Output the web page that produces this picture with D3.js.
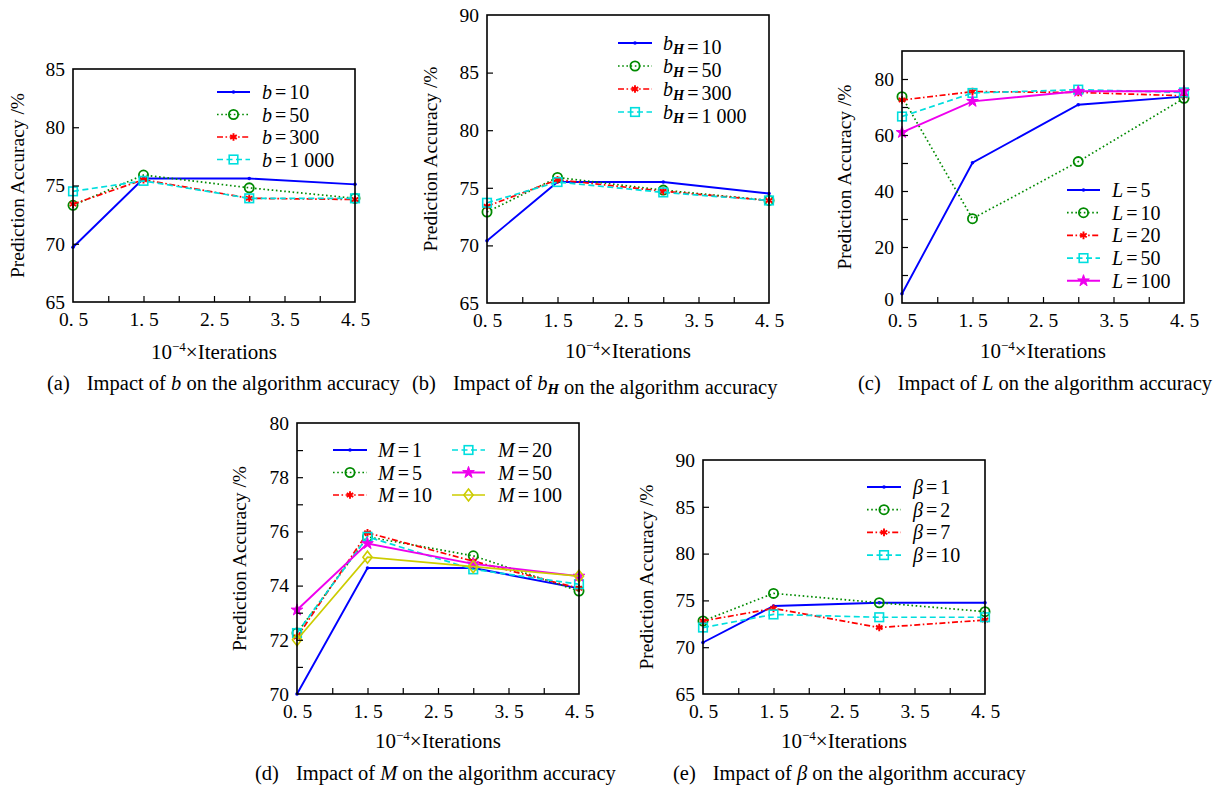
<!DOCTYPE html>
<html lang="en">
<head>
<meta charset="UTF-8">
<title>Impact of parameters on the algorithm accuracy</title>
<script src="https://d3js.org/d3.v7.min.js"></script>
<style>
  body { margin: 0; background: #fff; }
  svg { display: block; background: #fff; }
  text { fill: #000; white-space: pre; }
  .tick line { stroke: #000; stroke-width: 1.2; }
</style>
</head>
<body>
<script>
// x positions of the measurements (10^-4 x iterations)
const iterations = [0.5, 1.5, 3, 4.5];
const xTicks = [0.5, 1, 1.5, 2, 2.5, 3, 3.5, 4, 4.5];
const xTickLabels = ["0. 5", "1. 5", "2. 5", "3. 5", "4. 5"];

// (a) parameter b
const bLabels = ["10", "50", "300", "1 000"];
const bAccuracy = [
  [69.7, 75.6, 75.6, 75.1],
  [73.3, 75.9, 74.8, 73.9],
  [73.4, 75.5, 73.9, 73.8],
  [74.5, 75.4, 73.9, 73.9]
];
const bTicks = [65, 70, 75, 80, 85];

// (b) parameter b_H
const bhLabels = ["10", "50", "300", "1 000"];
const bhAccuracy = [
  [70.4, 75.5, 75.5, 74.5],
  [72.9, 75.9, 74.8, 73.9],
  [73.4, 75.7, 74.7, 73.9],
  [73.7, 75.5, 74.6, 73.9]
];
const bhTicks = [65, 70, 75, 80, 85, 90];

// (c) parameter L
const lLabels = ["5", "10", "20", "50", "100"];
const lAccuracy = [
  [3.3, 50.1, 70.8, 73.7],
  [73.7, 30.1, 50.5, 73.1],
  [72.5, 75.5, 75.2, 74.0],
  [66.6, 75.0, 76.2, 75.2],
  [60.9, 72.0, 75.6, 75.6]
];
const lTicks = [0, 20, 40, 60, 80];
const lMinor = [10, 30, 50, 70];

// (d) parameter M
const mLabels = ["1", "5", "10", "20", "50", "100"];
const mAccuracy = [
  [70.0, 74.65, 74.65, 73.9],
  [72.25, 75.8, 75.1, 73.8],
  [72.1, 75.95, 74.9, 73.9],
  [72.25, 75.8, 74.6, 74.05],
  [73.1, 75.55, 74.8, 74.35],
  [72.0, 75.05, 74.7, 74.35]
];
const mTicks = [70, 72, 74, 76, 78, 80];
const mMinor = [71, 73, 75, 77, 79];

// (e) parameter beta
const betaLabels = ["1", "2", "7", "10"];
const betaAccuracy = [
  [70.5, 74.4, 74.75, 74.75],
  [72.8, 75.75, 74.75, 73.8],
  [72.8, 74.15, 72.1, 72.9],
  [72.1, 73.5, 73.2, 73.2]
];
const betaTicks = [65, 70, 75, 80, 85, 90];

const FONT = "'Liberation Serif', 'Times New Roman', Tinos, 'DejaVu Serif', serif";

// line / marker style of the n-th series
const styles = [
  { color: "#0000ff", dash: null, marker: "dot", width: 1.9 },
  { color: "#008a00", dash: "1.6,2.6", marker: "circle", width: 1.7 },
  { color: "#ff0000", dash: "6,2.5,1.6,2.5", marker: "asterisk", width: 1.7 },
  { color: "#00dede", dash: "6,3.5", marker: "square", width: 1.7 },
  { color: "#ee00ee", dash: null, marker: "star", width: 1.9 },
  { color: "#cccc00", dash: null, marker: "diamond", width: 1.7 }
];

const panels = [
  { letter: "a", v: "b", sub: null, labels: bLabels, values: bAccuracy, yDomain: [65, 85], yTicks: bTicks, yMinor: [],
    left: 73, right: 355, top: 69, bottom: 302, yLabelX: 17,
    legend: { cols: [{ x1: 217, x2: 250, tx: 262 }], y0: 92, dy: 22.5, rows: 4 },
    xLabelY: 359, captionX: 47, captionY: 390 },
  { letter: "b", v: "b", sub: "H", labels: bhLabels, values: bhAccuracy, yDomain: [65, 90], yTicks: bhTicks, yMinor: [],
    left: 487, right: 769, top: 15, bottom: 303, yLabelX: 430,
    legend: { cols: [{ x1: 618, x2: 652, tx: 663 }], y0: 43, dy: 23, rows: 4 },
    xLabelY: 358, captionX: 412, captionY: 390 },
  { letter: "c", v: "L", sub: null, labels: lLabels, values: lAccuracy, yDomain: [0, 90], yTicks: lTicks, yMinor: lMinor,
    left: 902, right: 1184, top: 51, bottom: 303, yLabelX: 844,
    legend: { cols: [{ x1: 1067, x2: 1100, tx: 1112 }], y0: 190, dy: 22.7, rows: 5 },
    xLabelY: 358, captionX: 858, captionY: 390 },
  { letter: "d", v: "M", sub: null, labels: mLabels, values: mAccuracy, yDomain: [70, 80], yTicks: mTicks, yMinor: mMinor,
    left: 297, right: 579, top: 423, bottom: 694, yLabelX: 239,
    legend: { cols: [{ x1: 333, x2: 367, tx: 378 }, { x1: 452, x2: 485, tx: 498 }], y0: 450, dy: 22.5, rows: 3 },
    xLabelY: 748, captionX: 255, captionY: 780 },
  { letter: "e", v: "\u03b2", sub: null, labels: betaLabels, values: betaAccuracy, yDomain: [65, 90], yTicks: betaTicks, yMinor: [],
    left: 703, right: 985, top: 460, bottom: 694, yLabelX: 646,
    legend: { cols: [{ x1: 867, x2: 901, tx: 913 }], y0: 487, dy: 22.7, rows: 4 },
    xLabelY: 748, captionX: 673, captionY: 780 }
];

const svg = d3.select("body").append("svg")
  .attr("width", 1222)
  .attr("height", 788)
  .attr("font-family", FONT);

function drawMarker(g, kind, color, cx, cy) {
  if (kind === "dot") {
    g.append("circle").attr("cx", cx).attr("cy", cy).attr("r", 1.8).attr("fill", color);
  } else if (kind === "circle") {
    g.append("circle").attr("cx", cx).attr("cy", cy).attr("r", 4.6)
      .attr("fill", "none").attr("stroke", color).attr("stroke-width", 1.8);
  } else if (kind === "asterisk") {
    g.append("path").attr("d", d3.symbol(d3.symbolAsterisk, 40)())
      .attr("transform", `translate(${cx},${cy})`)
      .attr("fill", "none").attr("stroke", color).attr("stroke-width", 1.9);
  } else if (kind === "square") {
    g.append("rect").attr("x", cx - 4.3).attr("y", cy - 4.3).attr("width", 8.6).attr("height", 8.6)
      .attr("fill", "none").attr("stroke", color).attr("stroke-width", 1.6);
  } else if (kind === "star") {
    g.append("path").attr("d", d3.symbol(d3.symbolStar, 42)())
      .attr("transform", `translate(${cx},${cy})`)
      .attr("fill", color).attr("stroke", color).attr("stroke-width", 1);
  } else if (kind === "diamond") {
    g.append("path").attr("d", `M${cx},${cy - 6}L${cx + 4.6},${cy}L${cx},${cy + 6}L${cx - 4.6},${cy}Z`)
      .attr("fill", "none").attr("stroke", color).attr("stroke-width", 1.6);
  }
}

function addVar(t, p, size) {
  t.append("tspan").attr("font-style", "italic").text(p.v);
  if (p.sub) {
    t.append("tspan").attr("font-style", "italic").attr("font-weight", "bold")
      .attr("font-size", size * 0.72).attr("dy", 4).text(p.sub);
    t.append("tspan").attr("dy", -4).text("");
  }
}

function drawPanel(p) {
  const x = d3.scaleLinear().domain([0.5, 4.5]).range([p.left, p.right]);
  const y = d3.scaleLinear().domain(p.yDomain).range([p.bottom, p.top]);
  const g = svg.append("g");

  const line = d3.line()
    .x((d, i) => x(iterations[i]))
    .y(d => y(d));

  p.values.forEach((vals, i) => {
    const st = styles[i];
    g.append("path").datum(vals)
      .attr("d", line)
      .attr("fill", "none")
      .attr("stroke", st.color)
      .attr("stroke-width", st.width)
      .attr("stroke-dasharray", st.dash);
    vals.forEach((v, j) => drawMarker(g, st.marker, st.color, x(iterations[j]), y(v)));
  });

  // frame
  g.append("rect")
    .attr("x", p.left).attr("y", p.top)
    .attr("width", p.right - p.left).attr("height", p.bottom - p.top)
    .attr("fill", "none").attr("stroke", "#000").attr("stroke-width", 1.6);

  // axes, ticks pointing inwards
  const yAxis = g.append("g").attr("transform", `translate(${p.left},0)`)
    .call(d3.axisLeft(y).tickValues(p.yTicks).tickSize(-6).tickPadding(8).tickFormat(d3.format("d")));
  yAxis.select(".domain").remove();
  yAxis.selectAll(".tick").filter(d => d === p.yDomain[0] || d === p.yDomain[1]).select("line").remove();
  // lowest label of (c) sits just above the x tick labels
  if (p.yDomain[0] === 0) yAxis.selectAll(".tick").filter(d => d === 0).select("text").attr("dy", "0.15em");

  if (p.yMinor.length) {
    const m = g.append("g").attr("transform", `translate(${p.left},0)`)
      .call(d3.axisLeft(y).tickValues(p.yMinor).tickSize(-6).tickFormat(""));
    m.select(".domain").remove();
  }

  const xAxis = g.append("g").attr("transform", `translate(0,${p.bottom})`)
    .call(d3.axisBottom(x).tickValues(xTicks).tickSize(-6).tickPadding(10)
      .tickFormat(d => {
        const k = [0.5, 1.5, 2.5, 3.5, 4.5].indexOf(d);
        return k >= 0 ? xTickLabels[k] : "";
      }));
  xAxis.select(".domain").remove();
  xAxis.selectAll(".tick").filter(d => d === 0.5 || d === 4.5).select("line").remove();
  g.selectAll("g").attr("font-family", FONT).attr("font-size", 19.5);
  g.selectAll(".tick text").attr("fill", "#000");

  // axis titles
  g.append("text")
    .attr("transform", `translate(${p.yLabelX},${(p.top + p.bottom) / 2}) rotate(-90)`)
    .attr("text-anchor", "middle").attr("dy", "0.35em")
    .attr("font-size", 19.5)
    .text("Prediction Accuracy /%");

  const xl = g.append("text")
    .attr("x", (p.left + p.right) / 2).attr("y", p.xLabelY)
    .attr("text-anchor", "middle").attr("font-size", 21);
  xl.append("tspan").text("10");
  xl.append("tspan").attr("font-size", 13).attr("dy", -8).text("\u22124");
  xl.append("tspan").attr("dy", 8).text("\u00d7Iterations");

  // legend
  p.labels.forEach((lab, i) => {
    const col = p.legend.cols[Math.floor(i / p.legend.rows)];
    const ly = p.legend.y0 + (i % p.legend.rows) * p.legend.dy;
    const st = styles[i];
    g.append("line")
      .attr("x1", col.x1).attr("x2", col.x2).attr("y1", ly).attr("y2", ly)
      .attr("stroke", st.color).attr("stroke-width", st.width)
      .attr("stroke-dasharray", st.dash);
    drawMarker(g, st.marker, st.color, (col.x1 + col.x2) / 2, ly);
    const t = g.append("text").attr("x", col.tx).attr("y", ly).attr("dy", "0.35em").attr("font-size", 20);
    addVar(t, p, 20);
    t.append("tspan").attr("dx", 3).text("=");
    t.append("tspan").attr("dx", 3).text(lab);
  });

  // caption
  const c = svg.append("text").attr("x", p.captionX).attr("y", p.captionY).attr("font-size", 20.5);
  c.append("tspan").text(`(${p.letter})`);
  c.append("tspan").attr("dx", 17).text("Impact of ");
  addVar(c, p, 20.5);
  c.append("tspan").text(" on the algorithm accuracy");
}

panels.forEach(drawPanel);
</script>
</body>
</html>
